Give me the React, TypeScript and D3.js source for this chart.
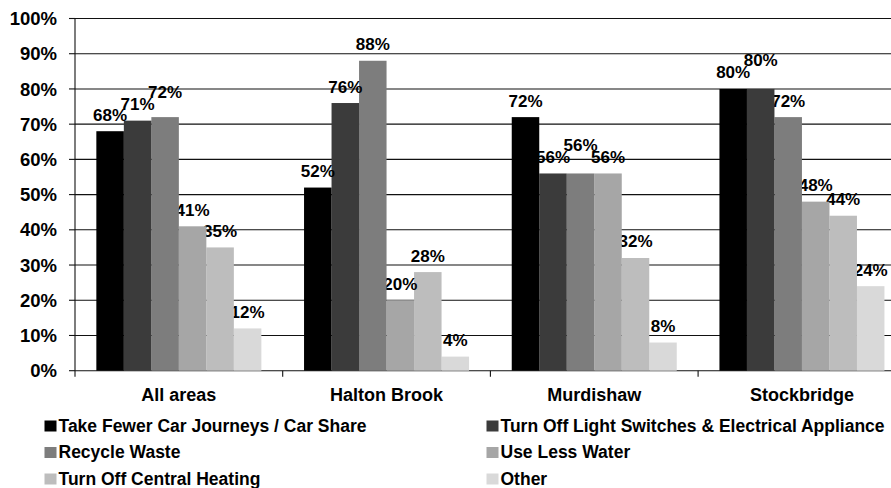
import React from 'react';
import * as d3 from 'd3';

const categories = ['All areas', 'Halton Brook', 'Murdishaw', 'Stockbridge'];
const seriesNames = [
  'Take Fewer Car Journeys / Car Share',
  'Turn Off Light Switches & Electrical Appliance',
  'Recycle Waste',
  'Use Less Water',
  'Turn Off Central Heating',
  'Other',
];
const carJourneys = [68, 52, 72, 80];
const lightSwitches = [71, 76, 56, 80];
const recycleWaste = [72, 88, 56, 72];
const lessWater = [41, 20, 56, 48];
const centralHeating = [35, 28, 32, 44];
const other = [12, 4, 8, 24];
const seriesValues = [carJourneys, lightSwitches, recycleWaste, lessWater, centralHeating, other];
const seriesColors = ['#000000', '#3b3b3b', '#7d7d7d', '#a6a6a6', '#bdbdbd', '#d9d9d9'];
const yTicks = [0, 10, 20, 30, 40, 50, 60, 70, 80, 90, 100];

const W = 891;
const H = 488;
const margin = { left: 75, top: 18.5, bottom: 370.7 };
const bandWidth = 207.7;
const font = "'Liberation Sans', Arial, sans-serif";

const App: React.FC = () => {
  const x0 = d3
    .scaleBand<string>()
    .domain(categories)
    .range([margin.left, margin.left + bandWidth * categories.length])
    .padding(0);
  const x1 = d3
    .scaleBand<string>()
    .domain(seriesNames)
    .range([0, x0.bandwidth()])
    .paddingInner(0)
    .paddingOuter(0.776);
  const y = d3.scaleLinear().domain([0, 100]).range([margin.bottom, margin.top]);

  // label positions, nudged up when they collide with the previous one (like Excel does)
  const labelY: number[][] = seriesNames.map(() => []);
  categories.forEach((c, ci) => {
    let prevShifted = false;
    seriesNames.forEach((s, si) => {
      const natural = y(seriesValues[si][ci]) - 10.5;
      if (si > 0 && !prevShifted) {
        const prevNatural = y(seriesValues[si - 1][ci]) - 10.5;
        if (Math.abs(natural - prevNatural) < 8) {
          labelY[si][ci] = prevNatural - 12;
          prevShifted = true;
          return;
        }
      }
      prevShifted = false;
      labelY[si][ci] = natural;
    });
  });

  // drawn last series first so earlier bars sit over later labels
  const order = seriesNames.map((_, i) => i).reverse();

  return (
    <svg
      width={W}
      height={H}
      style={{ position: 'absolute', left: 0, top: 0, background: '#fff' }}
      fontFamily={font}
      fontWeight="bold"
    >
      {/* gridlines */}
      {yTicks.slice(1).map((t) => (
        <line key={t} x1={margin.left} x2={W} y1={y(t)} y2={y(t)} stroke="#111" strokeWidth={1.1} />
      ))}
      {/* y axis */}
      <line x1={margin.left} x2={margin.left} y1={margin.top} y2={margin.bottom} stroke="#111" strokeWidth={1.1} />
      {yTicks.map((t) => (
        <g key={t}>
          <line x1={margin.left - 6} x2={margin.left} y1={y(t)} y2={y(t)} stroke="#111" strokeWidth={1.1} />
          <text x={57} y={y(t)} dy="0.36em" textAnchor="end" fontSize={18.5} fill="#000">
            {t}%
          </text>
        </g>
      ))}
      {/* x axis */}
      <line x1={margin.left} x2={W} y1={margin.bottom} y2={margin.bottom} stroke="#111" strokeWidth={1.1} />
      {categories.map((c) => (
        <line
          key={c}
          x1={x0(c) ?? 0}
          x2={x0(c) ?? 0}
          y1={margin.bottom}
          y2={margin.bottom + 6}
          stroke="#111"
          strokeWidth={1.1}
        />
      ))}
      {categories.map((c) => (
        <text
          key={c}
          x={(x0(c) ?? 0) + x0.bandwidth() / 2}
          y={400.7}
          textAnchor="middle"
          fontSize={18}
          fill="#000"
        >
          {c}
        </text>
      ))}
      {/* bars and labels */}
      {order.map((si) => (
        <g key={seriesNames[si]}>
          {categories.map((c, ci) => {
            const v = seriesValues[si][ci];
            const bx = (x0(c) ?? 0) + (x1(seriesNames[si]) ?? 0);
            return (
              <rect
                key={c}
                x={bx}
                y={y(v)}
                width={x1.bandwidth()}
                height={y(0) - y(v)}
                fill={seriesColors[si]}
              />
            );
          })}
          {categories.map((c, ci) => {
            const v = seriesValues[si][ci];
            const bx = (x0(c) ?? 0) + (x1(seriesNames[si]) ?? 0) + x1.bandwidth() / 2;
            return (
              <text key={c} x={bx} y={labelY[si][ci]} textAnchor="middle" fontSize={17} fill="#000">
                {v}%
              </text>
            );
          })}
        </g>
      ))}
      {/* legend */}
      {seriesNames.map((s, i) => {
        const col = i % 2;
        const row = Math.floor(i / 2);
        const lx = col === 0 ? 44.5 : 486.5;
        const ly = 431.5 + row * 26.5;
        return (
          <g key={s}>
            <rect x={lx} y={ly - 11} width={12} height={11} fill={seriesColors[i]} />
            <text x={lx + 14} y={ly} fontSize={17.5} fill="#000">
              {s}
            </text>
          </g>
        );
      })}
    </svg>
  );
};

export default App;
